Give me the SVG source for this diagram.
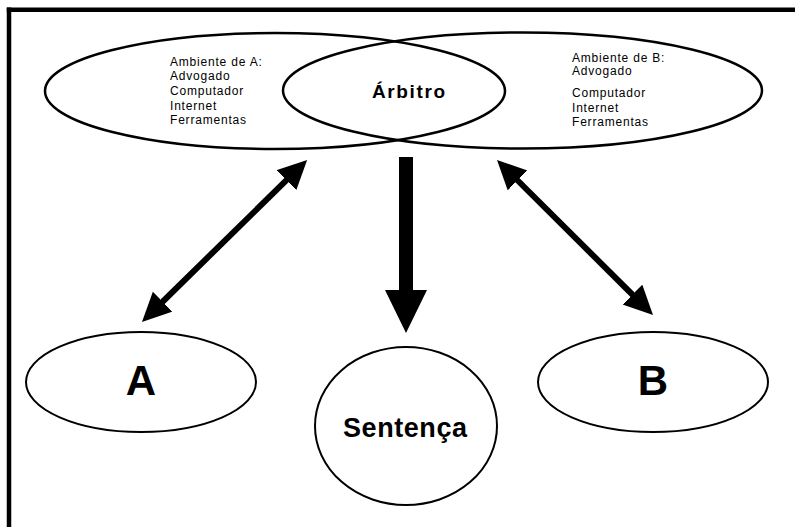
<svg xmlns="http://www.w3.org/2000/svg" width="795" height="527" viewBox="0 0 795 527">
  <style>
    .frame { stroke: #000; stroke-width: 4.5; fill: none; }
    .env { fill: none; stroke: #000; stroke-width: 2.5; }
    .node { fill: #fff; stroke: #000; stroke-width: 2; }
    .small { font-family: "Liberation Sans", Arial, sans-serif; font-size: 12px; letter-spacing: 0.8px; fill: #000; }
    .bold { font-family: "Liberation Sans", Arial, sans-serif; font-weight: bold; fill: #000; }
    .link { stroke: #000; stroke-width: 6; fill: none; }
  </style>
  <defs>
    <marker id="head" markerUnits="userSpaceOnUse" markerWidth="30" markerHeight="30" viewBox="0 0 30 30" refX="19" refY="14" orient="auto-start-reverse">
      <path d="M0,0 L29,14 L0,28 Z" fill="#000"/>
    </marker>
    <marker id="bighead" markerUnits="userSpaceOnUse" markerWidth="44" markerHeight="44" viewBox="0 0 44 44" refX="1" refY="21" orient="auto">
      <path d="M0,0 L43,21 L0,42 Z" fill="#000"/>
    </marker>
  </defs>

  <!-- page frame (top and left edges) -->
  <g id="frame">
    <line class="frame" x1="9" y1="7.5" x2="9" y2="527"/>
    <line class="frame" x1="6.8" y1="9.7" x2="795" y2="9.7"/>
  </g>

  <!-- environment of party A -->
  <g id="env-a">
    <ellipse class="env" cx="275" cy="91" rx="230" ry="58"/>
    <text class="small" x="170" y="66">Ambiente de A:</text>
    <text class="small" x="170" y="80">Advogado</text>
    <text class="small" x="170" y="95">Computador</text>
    <text class="small" x="170" y="110">Internet</text>
    <text class="small" x="170" y="124">Ferramentas</text>
  </g>

  <!-- environment of party B -->
  <g id="env-b">
    <ellipse class="env" cx="522.5" cy="90.5" rx="239.5" ry="58"/>
    <text class="small" x="572" y="62">Ambiente de B:</text>
    <text class="small" x="572" y="75">Advogado</text>
    <text class="small" x="572" y="97">Computador</text>
    <text class="small" x="572" y="112">Internet</text>
    <text class="small" x="572" y="126">Ferramentas</text>
  </g>

  <!-- arbiter, in the overlap of both environments -->
  <g id="arbitro">
    <text class="bold" x="372" y="97.5" font-size="19" textLength="73" lengthAdjust="spacing">Árbitro</text>
  </g>

  <!-- connectors -->
  <g id="connectors">
    <line class="link" x1="300" y1="166.9" x2="149.1" y2="315" marker-start="url(#head)" marker-end="url(#head)"/>
    <line class="link" x1="504.1" y1="167" x2="645.9" y2="308" marker-start="url(#head)" marker-end="url(#head)"/>
    <line x1="406" y1="157" x2="406" y2="291" stroke="#000" stroke-width="14" marker-end="url(#bighead)"/>
  </g>

  <!-- party A -->
  <g id="party-a">
    <ellipse class="node" cx="141" cy="382" rx="115" ry="50"/>
    <text class="bold" x="141" y="395" font-size="42" text-anchor="middle">A</text>
  </g>

  <!-- sentence -->
  <g id="sentenca">
    <ellipse class="node" cx="406" cy="426" rx="91" ry="79"/>
    <text class="bold" x="343" y="437" font-size="27" textLength="124" lengthAdjust="spacing">Sentença</text>
  </g>

  <!-- party B -->
  <g id="party-b">
    <ellipse class="node" cx="653" cy="382" rx="115" ry="50"/>
    <text class="bold" x="653" y="395" font-size="42" text-anchor="middle">B</text>
  </g>
</svg>
